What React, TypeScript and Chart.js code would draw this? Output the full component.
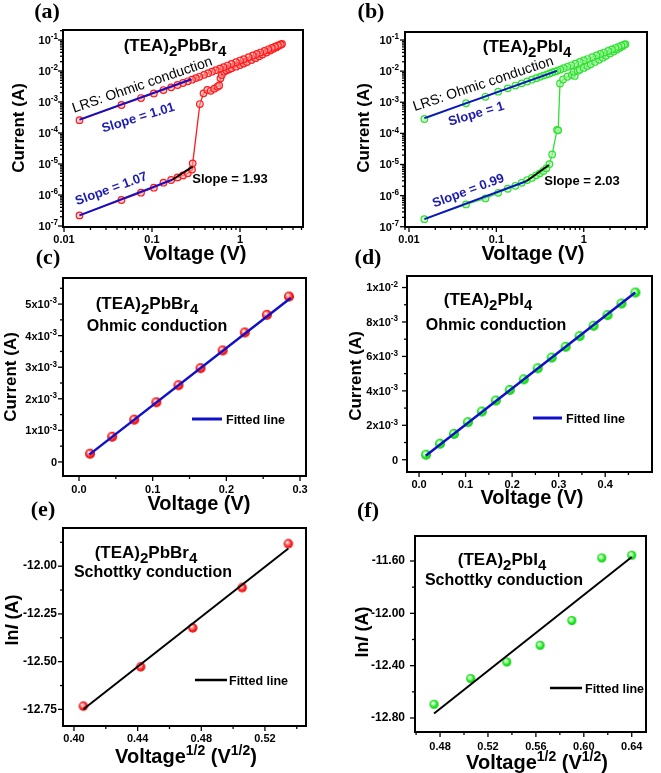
import React, { useEffect, useRef } from 'react';
import { Chart, registerables } from 'chart.js';

Chart.register(...registerables);

const PAGE_W = 661;
const PAGE_H = 773;
const SANS = '"Liberation Sans", Arial, Helvetica, sans-serif';
const SERIF = '"Liberation Serif", "Times New Roman", serif';

// ---------------- (a) (TEA)2PbBr4 log-log I-V ----------------
const A_HRS_V = [0.015, 0.045, 0.075, 0.105, 0.135, 0.165, 0.195, 0.225, 0.255, 0.285, 0.29];
const A_HRS_I = [2.2e-7, 6.9e-7, 1.19e-6, 1.72e-6, 2.5e-6, 3.05e-6, 3.7e-6, 4.3e-6, 5.0e-6, 6.6e-6, 1.05e-5];
const A_SET_V = [0.35, 0.385, 0.425, 0.465, 0.51, 0.555, 0.58, 0.6, 0.62, 0.66];
const A_SET_I = [8.6e-4, 1.9e-3, 2.45e-3, 2.3e-3, 2.7e-3, 3.1e-3, 3.4e-3, 5.8e-3, 7.4e-3, 9.5e-3];
const A_FWD_V = [0.7, 0.75, 0.8, 0.9, 1.0, 1.1, 1.2, 1.35, 1.5, 1.65, 1.8, 2.0, 2.2, 2.4, 2.6, 2.8, 3.0];
const A_FWD_I = [0.0104, 0.0113, 0.0122, 0.0138, 0.0155, 0.0174, 0.0195, 0.0225, 0.026, 0.0298, 0.034, 0.0395, 0.0455, 0.052, 0.0585, 0.066, 0.0749];
const A_REV_V = [2.9, 2.7, 2.5, 2.3, 2.1, 1.9, 1.7, 1.55, 1.4, 1.25, 1.1, 1.0, 0.9, 0.8, 0.72, 0.65, 0.59, 0.53, 0.48, 0.435, 0.39, 0.345, 0.315];
const A_REV_I = [0.0719, 0.0663, 0.0608, 0.0553, 0.05, 0.0446, 0.0394, 0.0355, 0.0316, 0.0278, 0.0241, 0.0217, 0.0192, 0.0168, 0.015, 0.0133, 0.0119, 0.0106, 0.0095, 0.0085, 0.0075, 0.0065, 0.0059];
const A_FIT_LRS_V = [0.015, 0.28];
const A_FIT_LRS_I = [2.7e-4, 5.4e-3];
const A_FIT_HRS_V = [0.015, 0.17];
const A_FIT_HRS_I = [2.2e-7, 3.1e-6];
const A_FIT_SCLC_V = [0.17, 0.29];
const A_FIT_SCLC_I = [3.1e-6, 8.2e-6];

// ---------------- (c) (TEA)2PbBr4 ohmic region ----------------
const C_V = [0.015, 0.045, 0.075, 0.105, 0.135, 0.165, 0.195, 0.225, 0.255, 0.285];
const C_I = [0.26e-3, 0.8e-3, 1.34e-3, 1.89e-3, 2.43e-3, 2.97e-3, 3.53e-3, 4.1e-3, 4.66e-3, 5.24e-3];
const C_FIT_V = [0.014, 0.2873];
const C_FIT_I = [0.232e-3, 5.19e-3];

// ---------------- (b) (TEA)2PbI4 log-log I-V ----------------
const B_HRS_V = [0.015, 0.045, 0.075, 0.105, 0.135, 0.165, 0.195, 0.225, 0.255, 0.285, 0.315, 0.345, 0.375, 0.405, 0.435];
const B_HRS_I = [1.75e-7, 5.2e-7, 8.1e-7, 1.23e-6, 1.66e-6, 2.07e-6, 2.58e-6, 3.16e-6, 3.7e-6, 4.5e-6, 5.2e-6, 6.2e-6, 7.6e-6, 1.03e-5, 2.1e-5];
const B_SET_V = [0.495, 0.51, 0.535, 0.58, 0.65, 0.73, 0.79, 0.77];
const B_SET_I = [1.3e-4, 1.25e-4, 4.0e-3, 5.4e-3, 6.6e-3, 7.5e-3, 7.0e-3, 9.5e-3];
const B_FWD_V = [0.85, 0.9, 1.0, 1.1, 1.2, 1.35, 1.5, 1.65, 1.8, 2.0, 2.2, 2.4, 2.6, 2.8, 3.0];
const B_FWD_I = [0.0102, 0.011, 0.0127, 0.0145, 0.0165, 0.0197, 0.0232, 0.027, 0.031, 0.0366, 0.0428, 0.0494, 0.0565, 0.0645, 0.0737];
const B_REV_V = [2.9, 2.7, 2.5, 2.3, 2.1, 1.9, 1.7, 1.55, 1.4, 1.25, 1.1, 1.0, 0.9, 0.8, 0.72, 0.65, 0.59, 0.54, 0.497];
const B_REV_I = [0.0712, 0.0658, 0.0605, 0.0552, 0.0499, 0.0447, 0.0396, 0.0358, 0.032, 0.0282, 0.0245, 0.0221, 0.0197, 0.0173, 0.0154, 0.0138, 0.0124, 0.0112, 0.0102];
const B_FIT_LRS_V = [0.015, 0.494];
const B_FIT_LRS_I = [3.1e-4, 0.0102];
const B_FIT_HRS_V = [0.015, 0.22];
const B_FIT_HRS_I = [1.75e-7, 2.9e-6];
const B_FIT_SCLC_V = [0.22, 0.4];
const B_FIT_SCLC_I = [2.9e-6, 9.6e-6];

// ---------------- (d) (TEA)2PbI4 ohmic region ----------------
const D_V = [0.015, 0.045, 0.075, 0.105, 0.135, 0.165, 0.195, 0.225, 0.255, 0.285, 0.315, 0.345, 0.375, 0.405, 0.435, 0.465];
const D_I = [0.29e-3, 0.93e-3, 1.5e-3, 2.18e-3, 2.8e-3, 3.44e-3, 4.05e-3, 4.67e-3, 5.31e-3, 5.93e-3, 6.56e-3, 7.18e-3, 7.78e-3, 8.4e-3, 9.07e-3, 9.71e-3];
const D_FIT_V = [0.0144, 0.4646];
const D_FIT_I = [0.23e-3, 9.71e-3];

// ---------------- (e) / (f) Schottky plots ----------------
const E_X = [0.4059, 0.4419, 0.4746, 0.5057, 0.5347];
const E_Y = [-12.733, -12.527, -12.323, -12.112, -11.882];
const E_FIT_X = [0.4059, 0.5347];
const E_FIT_Y = [-12.749, -11.907];
const F_X = [0.475, 0.5056, 0.5357, 0.5635, 0.59, 0.615, 0.64];
const F_Y = [-12.695, -12.499, -12.372, -12.244, -12.055, -11.577, -11.556];
const F_FIT_X = [0.475, 0.64];
const F_FIT_Y = [-12.766, -11.569];

// ---------------- tick values & labels ('^' marks a superscript) ----------------
const LOG_X_TICKS = [0.01, 0.1, 1];
const LOG_X_LABELS = ['0.01', '0.1', '1'];
const LOG_Y_TICKS = [1e-7, 1e-6, 1e-5, 1e-4, 1e-3, 1e-2, 1e-1];
const LOG_Y_LABELS = ['10^-7', '10^-6', '10^-5', '10^-4', '10^-3', '10^-2', '10^-1'];
const C_X_TICKS = [0, 0.1, 0.2, 0.3];
const C_X_LABELS = ['0.0', '0.1', '0.2', '0.3'];
const C_Y_TICKS = [0, 1e-3, 2e-3, 3e-3, 4e-3, 5e-3];
const C_Y_LABELS = ['0', '1x10^-3', '2x10^-3', '3x10^-3', '4x10^-3', '5x10^-3'];
const D_X_TICKS = [0, 0.1, 0.2, 0.3, 0.4];
const D_X_LABELS = ['0.0', '0.1', '0.2', '0.3', '0.4'];
const D_Y_TICKS = [0, 2e-3, 4e-3, 6e-3, 8e-3, 1e-2];
const D_Y_LABELS = ['0', '2x10^-3', '4x10^-3', '6x10^-3', '8x10^-3', '1x10^-2'];
const E_X_TICKS = [0.4, 0.44, 0.48, 0.52];
const E_X_LABELS = ['0.40', '0.44', '0.48', '0.52'];
const E_Y_TICKS = [-12.75, -12.5, -12.25, -12.0];
const E_Y_LABELS = ['-12.75', '-12.50', '-12.25', '-12.00'];
const F_X_TICKS = [0.48, 0.52, 0.56, 0.6, 0.64];
const F_X_LABELS = ['0.48', '0.52', '0.56', '0.60', '0.64'];
const F_Y_TICKS = [-12.8, -12.4, -12.0, -11.6];
const F_Y_LABELS = ['-12.80', '-12.40', '-12.00', '-11.60'];

// ---------------- helpers ----------------
type Run = { t: string; s?: number; dy?: number; it?: boolean };
type TextItem = { x: number; y: number; runs: Run[]; size: number; bold?: boolean; family?: string; color?: string; rot?: number; align?: 'left' | 'center' | 'right' };
type Legend = { x1: number; x2: number; y: number; color: string; width: number; text: string; tx: number };
type Axis = { type: 'linear' | 'logarithmic'; min: number; max: number; ticks: number[]; labels: string[]; size: number; pad: number; rich?: boolean };
type Panel = { area: { l: number; t: number; r: number; b: number }; x: Axis; y: Axis; datasets: any[]; texts: TextItem[]; legend?: Legend };

const YW = 50;
const XH = 30;
const RED = '#ff1a1a';
const GREEN = '#30e030';
const BLUE = '#1010c8';
const SLOPE_BLUE = '#1c1cb0';

const pts = (xs: number[], ys: number[]) => xs.map((x, i) => ({ x, y: ys[i] }));

function logTicks(min: number, max: number) {
  const out: { value: number; major: boolean }[] = [];
  for (let e = Math.floor(Math.log10(min)); e <= Math.ceil(Math.log10(max)); e++) {
    for (let k = 1; k <= 9; k++) {
      const v = k * Math.pow(10, e);
      if (v >= min && v <= max) out.push({ value: v, major: k === 1 });
    }
  }
  return out;
}

function linTicks(min: number, max: number, majors: number[]) {
  const step = majors[1] - majors[0];
  const out: { value: number; major: boolean }[] = [];
  majors.forEach((v) => { if (v >= min && v <= max) out.push({ value: v, major: true }); });
  for (let i = -1; i < majors.length; i++) {
    const v = majors[0] + (i + 0.5) * step;
    if (v >= min && v <= max) out.push({ value: v, major: false });
  }
  return out.sort((a, b) => a.value - b.value);
}

function labelFor(v: number, ticks: number[], labels: string[]) {
  for (let i = 0; i < ticks.length; i++) {
    const m = ticks[i];
    if (Math.abs(v - m) <= 1e-7 * Math.max(Math.abs(m), 1e-12) + 1e-15) return labels[i];
  }
  return '';
}

function drawRich(ctx: CanvasRenderingContext2D, item: TextItem) {
  ctx.save();
  ctx.translate(item.x, item.y);
  if (item.rot) ctx.rotate((item.rot * Math.PI) / 180);
  const fam = item.family || SANS;
  const fontOf = (r: Run) => `${r.it ? 'italic ' : ''}${item.bold ? 'bold' : 'normal'} ${r.s || item.size}px ${fam}`;
  let total = 0;
  const widths = item.runs.map((r) => {
    ctx.font = fontOf(r);
    const w = ctx.measureText(r.t).width;
    total += w;
    return w;
  });
  let x = item.align === 'left' ? 0 : item.align === 'right' ? -total : -total / 2;
  const base = item.size * 0.36;
  ctx.fillStyle = item.color || '#000';
  ctx.textBaseline = 'alphabetic';
  ctx.textAlign = 'left';
  item.runs.forEach((r, i) => {
    ctx.font = fontOf(r);
    ctx.fillText(r.t, x, base + (r.dy || 0));
    x += widths[i];
  });
  ctx.restore();
}

function tickRuns(label: string, size: number): Run[] {
  const [base, exp] = label.split('^');
  const runs: Run[] = [{ t: base }];
  if (exp) runs.push({ t: exp, s: size * 0.74, dy: -size * 0.42 });
  return runs;
}

function decorPlugin(p: Panel) {
  return {
    id: 'panelDecor',
    afterDraw(chart: any) {
      const ctx: CanvasRenderingContext2D = chart.ctx;
      const a = chart.chartArea;
      const xs = chart.scales.x;
      const ys = chart.scales.y;
      ctx.save();
      ctx.strokeStyle = '#000';
      ctx.lineWidth = 1.3;
      xs.ticks.forEach((t: any) => {
        const px = xs.getPixelForValue(t.value);
        if (px < a.left - 0.5 || px > a.right + 0.5) return;
        const len = t.major ? 5 : 3;
        ctx.beginPath();
        ctx.moveTo(px, a.bottom);
        ctx.lineTo(px, a.bottom + len);
        ctx.stroke();
      });
      ys.ticks.forEach((t: any) => {
        const py = ys.getPixelForValue(t.value);
        if (py < a.top - 0.5 || py > a.bottom + 0.5) return;
        const len = t.major ? 5 : 3;
        ctx.beginPath();
        ctx.moveTo(a.left, py);
        ctx.lineTo(a.left - len, py);
        ctx.stroke();
        if (p.y.rich && t.major) {
          const lab = labelFor(t.value, p.y.ticks, p.y.labels);
          if (lab) drawRich(ctx, { x: a.left - p.y.pad, y: py, runs: tickRuns(lab, p.y.size), size: p.y.size, bold: true, align: 'right' });
        }
      });
      ctx.lineWidth = 2;
      ctx.strokeRect(a.left, a.top, a.right - a.left, a.bottom - a.top);
      if (p.legend) {
        const lg = p.legend;
        ctx.strokeStyle = lg.color;
        ctx.lineWidth = lg.width;
        ctx.beginPath();
        ctx.moveTo(lg.x1, lg.y);
        ctx.lineTo(lg.x2, lg.y);
        ctx.stroke();
        drawRich(ctx, { x: lg.tx, y: lg.y, runs: [{ t: lg.text }], size: 12.5, bold: true, align: 'left' });
      }
      p.texts.forEach((t) => drawRich(ctx, t));
      ctx.restore();
    },
  };
}

function axisOpts(ax: Axis, isX: boolean) {
  return {
    type: ax.type,
    min: ax.min,
    max: ax.max,
    bounds: 'data',
    position: isX ? 'bottom' : 'left',
    grid: { display: false, drawTicks: false, tickLength: 0 },
    border: { display: false },
    ticks: {
      display: !ax.rich,
      autoSkip: false,
      maxRotation: 0,
      minRotation: 0,
      padding: ax.pad,
      color: '#000',
      font: { family: SANS, weight: 'bold', size: ax.size },
      callback: (v: any) => labelFor(Number(v), ax.ticks, ax.labels),
    },
    afterBuildTicks: (s: any) => {
      s.ticks = ax.type === 'logarithmic' ? logTicks(ax.min, ax.max) : linTicks(ax.min, ax.max, ax.ticks);
    },
    afterFit: (s: any) => {
      if (isX) s.height = XH;
      else s.width = YW;
    },
  };
}

function makeConfig(p: Panel): any {
  return {
    type: 'scatter',
    data: { datasets: p.datasets },
    options: {
      responsive: false,
      animation: false,
      devicePixelRatio: 1,
      events: [],
      layout: {
        padding: { left: p.area.l - YW, top: p.area.t, right: PAGE_W - p.area.r, bottom: PAGE_H - p.area.b - XH },
      },
      plugins: { legend: { display: false }, tooltip: { enabled: false } },
      scales: { x: axisOpts(p.x, true), y: axisOpts(p.y, false) },
    },
    plugins: [decorPlugin(p)],
  };
}

function makeBall(r: number, light: string, base: string, dark: string) {
  const c = document.createElement('canvas');
  const d = Math.ceil(r * 2) + 2;
  c.width = d;
  c.height = d;
  const g = c.getContext('2d')!;
  const cx = d / 2;
  const cy = d / 2;
  const grad = g.createRadialGradient(cx - r * 0.3, cy - r * 0.35, r * 0.05, cx, cy, r);
  grad.addColorStop(0, '#ffffff');
  grad.addColorStop(0.3, light);
  grad.addColorStop(0.65, base);
  grad.addColorStop(1, dark);
  g.fillStyle = grad;
  g.beginPath();
  g.arc(cx, cy, r, 0, Math.PI * 2);
  g.fill();
  return c;
}

const fitSet = (xs: number[], ys: number[], color: string, width: number) => ({
  data: pts(xs, ys), showLine: true, borderColor: color, borderWidth: width, pointRadius: 0, pointHoverRadius: 0, order: 0,
});
const sweepSet = (data: { x: number; y: number }[], color: string, fill: string) => ({
  data, showLine: true, borderColor: color, borderWidth: 1.3, pointRadius: 3.3, pointBorderWidth: 1.2,
  pointBorderColor: color, pointBackgroundColor: fill, order: 1,
});
const ballSet = (xs: number[], ys: number[], img: HTMLCanvasElement, r: number) => ({
  data: pts(xs, ys), showLine: false, pointStyle: img, pointRadius: r, order: 1,
});

const tea = (halide: string): Run[] => [
  { t: '(TEA)' }, { t: '2', s: 15, dy: 4.5 }, { t: 'Pb' + halide }, { t: '4', s: 15, dy: 4.5 },
];
const VOLT_SQRT: Run[] = [{ t: 'Voltage' }, { t: '1/2', s: 14, dy: -8 }, { t: ' (V' }, { t: '1/2', s: 14, dy: -8 }, { t: ')' }];
const LN_I: Run[] = [{ t: 'ln' }, { t: 'I', it: true }, { t: ' (A)' }];

const label = (t: string, x: number, y: number): TextItem => ({ x, y, runs: [{ t }], size: 22, bold: true, family: SERIF });
const xTitle = (runs: Run[], x: number, y: number): TextItem => ({ x, y, runs, size: 20, bold: true });
const yTitle = (runs: Run[], x: number, y: number, size = 17): TextItem => ({ x, y, runs, size, bold: true, rot: -90 });
const plain = (t: string, x: number, y: number, size: number, extra: Partial<TextItem> = {}): TextItem => ({ x, y, runs: [{ t }], size, ...extra });
const heading = (halide: string, x: number, y: number): TextItem => ({ x, y, runs: tea(halide), size: 17, bold: true });

function buildPanels(): Panel[] {
  const redBall = makeBall(5, '#ff9a9a', '#ff2a2a', '#e00000');
  const greenBall = makeBall(5, '#b0ffb0', '#22ee22', '#10c010');
  const redBallS = makeBall(4.7, '#ffa0a0', '#ff2a2a', '#e00000');
  const greenBallS = makeBall(4.5, '#b0ffb0', '#22ee22', '#10c010');

  const aSweep = [
    ...pts(A_HRS_V, A_HRS_I), ...pts(A_SET_V, A_SET_I), ...pts(A_FWD_V, A_FWD_I),
    ...pts(A_REV_V, A_REV_I), ...pts(C_V, C_I).reverse(),
  ];
  const bSweep = [
    ...pts(B_HRS_V, B_HRS_I), ...pts(B_SET_V, B_SET_I), ...pts(B_FWD_V, B_FWD_I),
    ...pts(B_REV_V, B_REV_I), ...pts(D_V, D_I).reverse(),
  ];

  return [
    {
      area: { l: 63, t: 30, r: 303, b: 227 },
      x: { type: 'logarithmic', min: 0.00974, max: 5.2, ticks: LOG_X_TICKS, labels: LOG_X_LABELS, size: 11, pad: 6 },
      y: { type: 'logarithmic', min: 9.3e-8, max: 0.21, ticks: LOG_Y_TICKS, labels: LOG_Y_LABELS, size: 11, pad: 5, rich: true },
      datasets: [
        fitSet(A_FIT_LRS_V, A_FIT_LRS_I, BLUE, 2),
        fitSet(A_FIT_HRS_V, A_FIT_HRS_I, BLUE, 2),
        fitSet(A_FIT_SCLC_V, A_FIT_SCLC_I, '#000', 2),
        sweepSet(aSweep, RED, 'rgba(255,170,170,0.55)'),
      ],
      texts: [
        label('(a)', 47, 10),
        heading('Br', 175, 45),
        plain('LRS: Ohmic conduction', 142, 84, 14, { rot: -19 }),
        plain('Slope = 1.01', 138, 117, 13, { bold: true, color: SLOPE_BLUE, rot: -17 }),
        plain('Slope = 1.07', 111, 188, 13, { bold: true, color: SLOPE_BLUE, rot: -20 }),
        plain('Slope = 1.93', 230, 178, 13, { bold: true }),
        xTitle([{ t: 'Voltage (V)' }], 195, 253),
        yTitle([{ t: 'Current (A)' }], 17.5, 128),
      ],
    },
    {
      area: { l: 405, t: 32, r: 647, b: 227 },
      x: { type: 'logarithmic', min: 0.009, max: 5.3, ticks: LOG_X_TICKS, labels: LOG_X_LABELS, size: 11, pad: 6 },
      y: { type: 'logarithmic', min: 9.8e-8, max: 0.181, ticks: LOG_Y_TICKS, labels: LOG_Y_LABELS, size: 11, pad: 6, rich: true },
      datasets: [
        fitSet(B_FIT_LRS_V, B_FIT_LRS_I, BLUE, 2),
        fitSet(B_FIT_HRS_V, B_FIT_HRS_I, BLUE, 2),
        fitSet(B_FIT_SCLC_V, B_FIT_SCLC_I, '#000', 2),
        sweepSet(bSweep, GREEN, 'rgba(170,255,170,0.55)'),
      ],
      texts: [
        label('(b)', 371, 10),
        heading('I', 527, 46),
        plain('LRS: Ohmic conduction', 483, 83, 14, { rot: -18.5 }),
        plain('Slope = 1', 476, 113, 13, { bold: true, color: SLOPE_BLUE, rot: -16.5 }),
        plain('Slope = 0.99', 468, 190, 13, { bold: true, color: SLOPE_BLUE, rot: -20.5 }),
        plain('Slope = 2.03', 582, 180, 13, { bold: true }),
        xTitle([{ t: 'Voltage (V)' }], 533, 253),
        yTitle([{ t: 'Current (A)' }], 362.5, 128),
      ],
    },
    {
      area: { l: 63, t: 278, r: 306, b: 476 },
      x: { type: 'linear', min: -0.0217, max: 0.3081, ticks: C_X_TICKS, labels: C_X_LABELS, size: 11, pad: 7 },
      y: { type: 'linear', min: -0.445e-3, max: 5.826e-3, ticks: C_Y_TICKS, labels: C_Y_LABELS, size: 11, pad: 6, rich: true },
      datasets: [fitSet(C_FIT_V, C_FIT_I, BLUE, 2.5), ballSet(C_V, C_I, redBall, 5)],
      legend: { x1: 192, x2: 222, y: 419, color: BLUE, width: 3, text: 'Fitted line', tx: 226 },
      texts: [
        label('(c)', 48, 256),
        heading('Br', 147, 303),
        plain('Ohmic conduction', 157, 325.5, 16, { bold: true }),
        xTitle([{ t: 'Voltage (V)' }], 199, 502.5),
        yTitle([{ t: 'Current (A)' }], 9.5, 377),
      ],
    },
    {
      area: { l: 407, t: 276, r: 652, b: 472 },
      x: { type: 'linear', min: -0.0259, max: 0.5006, ticks: D_X_TICKS, labels: D_X_LABELS, size: 11, pad: 6.5 },
      y: { type: 'linear', min: -0.712e-3, max: 0.01067, ticks: D_Y_TICKS, labels: D_Y_LABELS, size: 11, pad: 9, rich: true },
      datasets: [fitSet(D_FIT_V, D_FIT_I, BLUE, 2.5), ballSet(D_V, D_I, greenBall, 5)],
      legend: { x1: 533, x2: 562, y: 418, color: BLUE, width: 3, text: 'Fitted line', tx: 566 },
      texts: [
        label('(d)', 368, 256),
        heading('I', 488, 299),
        plain('Ohmic conduction', 496, 324, 16, { bold: true }),
        xTitle([{ t: 'Voltage (V)' }], 532, 497),
        yTitle([{ t: 'Current (A)' }], 354.5, 376),
      ],
    },
    {
      area: { l: 63, t: 528, r: 306, b: 726 },
      x: { type: 'linear', min: 0.3931, max: 0.5458, ticks: E_X_TICKS, labels: E_X_LABELS, size: 11, pad: 6 },
      y: { type: 'linear', min: -12.837, max: -11.8, ticks: E_Y_TICKS, labels: E_Y_LABELS, size: 12, pad: 6 },
      datasets: [fitSet(E_FIT_X, E_FIT_Y, '#000', 2), ballSet(E_X, E_Y, redBallS, 4.7)],
      legend: { x1: 195, x2: 227, y: 680, color: '#000', width: 2.5, text: 'Fitted line', tx: 229 },
      texts: [
        label('(e)', 43, 508.5),
        heading('Br', 146, 552),
        plain('Schottky conduction', 153, 571, 16, { bold: true }),
        xTitle(VOLT_SQRT, 186, 756),
        yTitle(LN_I, 11.5, 620, 18),
      ],
    },
    {
      area: { l: 415, t: 536, r: 646, b: 732 },
      x: { type: 'linear', min: 0.4591, max: 0.6519, ticks: F_X_TICKS, labels: F_X_LABELS, size: 11, pad: 8 },
      y: { type: 'linear', min: -12.907, max: -11.409, ticks: F_Y_TICKS, labels: F_Y_LABELS, size: 12, pad: 10 },
      datasets: [fitSet(F_FIT_X, F_FIT_Y, '#000', 2), ballSet(F_X, F_Y, greenBallS, 4.5)],
      legend: { x1: 550, x2: 582, y: 688, color: '#000', width: 2.5, text: 'Fitted line', tx: 585 },
      texts: [
        label('(f)', 368, 509.5),
        heading('I', 502, 559),
        plain('Schottky conduction', 504, 579, 16, { bold: true }),
        xTitle(VOLT_SQRT, 537, 761.5),
        yTitle(LN_I, 361.7, 632, 18),
      ],
    },
  ];
}

export default function App() {
  const refs = useRef<(HTMLCanvasElement | null)[]>([]);

  useEffect(() => {
    const panels = buildPanels();
    const charts = panels.map((p, i) => new Chart(refs.current[i] as HTMLCanvasElement, makeConfig(p)));
    return () => charts.forEach((c) => c.destroy());
  }, []);

  return (
    <div style={{ position: 'absolute', left: 0, top: 0, width: PAGE_W, height: PAGE_H, background: '#fff', overflow: 'hidden' }}>
      {[0, 1, 2, 3, 4, 5].map((i) => (
        <canvas
          key={i}
          ref={(el) => { refs.current[i] = el; }}
          width={PAGE_W}
          height={PAGE_H}
          style={{ position: 'absolute', left: 0, top: 0, width: PAGE_W, height: PAGE_H }}
        />
      ))}
    </div>
  );
}
